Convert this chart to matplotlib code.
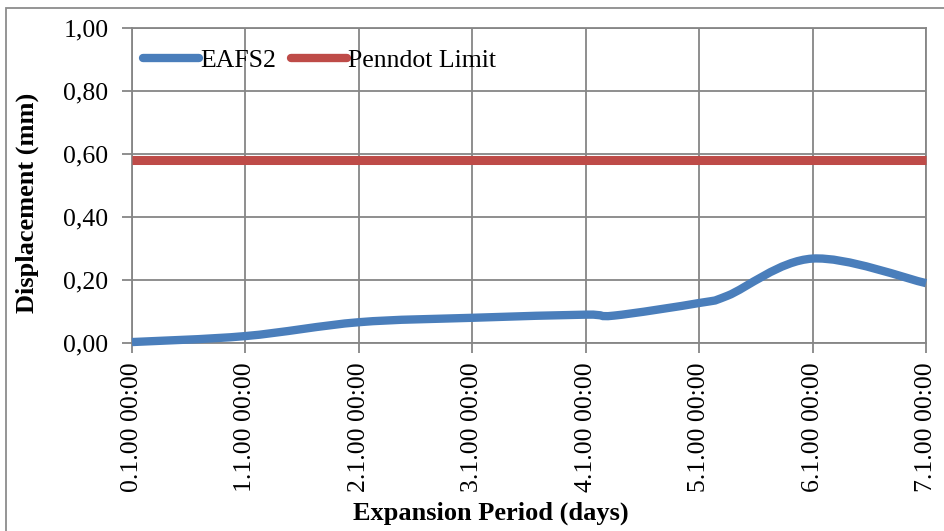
import numpy as np
import matplotlib.pyplot as plt
from matplotlib.path import Path
from matplotlib.patches import PathPatch, Rectangle
from matplotlib.lines import Line2D

plt.rcParams['font.family'] = ['Liberation Serif', 'DejaVu Serif']

# data
days = [0, 1, 2, 3, 4, 4.25, 5, 5.25, 6, 7]
eafs2 = [0.003, 0.022, 0.066, 0.080, 0.090, 0.087, 0.127, 0.150, 0.268, 0.190]
penndot_limit = 0.58
tick_days = [0, 1, 2, 3, 4, 5, 6, 7]
tick_labels = ['0.1.00 00:00', '1.1.00 00:00', '2.1.00 00:00', '3.1.00 00:00',
               '4.1.00 00:00', '5.1.00 00:00', '6.1.00 00:00', '7.1.00 00:00']
y_ticks = [0.0, 0.2, 0.4, 0.6, 0.8, 1.0]

blue = '#4A7EBB'
red = '#BE4B48'
grid_col = '#868686'


def smoothPath(xs, ys):
    """Curva di Bezier tipo Excel (linea smussata)"""
    pts = np.column_stack([xs, ys]).astype(float)
    n = len(pts)
    verts = [pts[0]]
    codes = [Path.MOVETO]
    for i in range(n - 1):
        p0 = pts[i - 1] if i > 0 else pts[i]
        p1 = pts[i]
        p2 = pts[i + 1]
        p3 = pts[i + 2] if i + 2 < n else pts[i + 1]
        verts += [p1 + (p2 - p0) / 6, p2 - (p3 - p1) / 6, p2]
        codes += [Path.CURVE4] * 3
    return Path(verts, codes)


fig = plt.figure(figsize=(9.44, 5.31), dpi=100)
ax = fig.add_axes([132 / 944, 1 - 343 / 531, 794 / 944, 315 / 531])

# cornice esterna del grafico
fig.patches.append(Rectangle((6 / 944, -0.2), 1.2, 0.2 + 1 - 8 / 531, transform=fig.transFigure,
                             fill=False, edgecolor='#8c8c8c', lw=1.3))

ax.plot([days[0], days[-1]], [penndot_limit, penndot_limit], color=red, lw=6.5,
        solid_capstyle='butt', clip_on=False, zorder=3)
ax.add_patch(PathPatch(smoothPath(days, eafs2), fill=False, edgecolor=blue, lw=6,
                       capstyle='butt', clip_on=False, zorder=4))

ax.set_xlim(0, 7)
ax.set_ylim(0, 1)
ax.set_xticks(tick_days)
ax.set_xticklabels(tick_labels, rotation=90)
ax.set_yticks(y_ticks)
ax.set_yticklabels([f'{v:.2f}'.replace('.', ',') for v in y_ticks])
ax.tick_params(axis='both', labelsize=18.5, color=grid_col, width=1.3, length=7)
ax.tick_params(axis='y', pad=10)
ax.tick_params(axis='x', pad=7)
ax.grid(True, color=grid_col, lw=1.3)
ax.set_axisbelow(True)
for s in ax.spines.values():
    s.set_color(grid_col)
    s.set_linewidth(1.3)

ax.set_xlabel('Expansion Period (days)', fontsize=19, fontweight='bold')
ax.set_ylabel('Displacement (mm)', fontsize=19, fontweight='bold')
ax.xaxis.set_label_coords(0.4515, -0.54)
ax.yaxis.set_label_coords(-0.132, 0.444)
ax.xaxis.label.set_va('center')
ax.yaxis.label.set_va('center')

handles = [Line2D([], [], color=blue, lw=6, solid_capstyle='round'),
           Line2D([], [], color=red, lw=6, solid_capstyle='round')]
ax.legend(handles, ['EAFS2', 'Penndot Limit'], loc='upper left', ncol=2, frameon=False,
          fontsize=18.5, handlelength=2.2, handletextpad=0.05, columnspacing=0.55,
          bbox_to_anchor=(-0.009, 0.99), borderaxespad=0.3)

plt.savefig('out.png', dpi=100)
